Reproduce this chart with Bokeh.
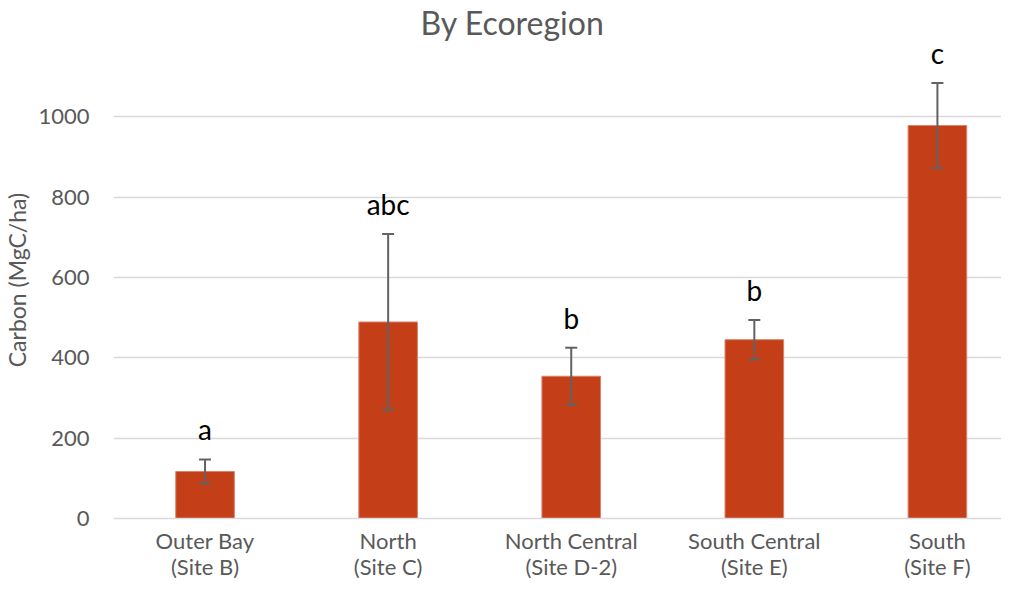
from bokeh.plotting import figure
from bokeh.models import ColumnDataSource, Whisker, TeeHead, Range1d, FixedTicker
from bokeh.core.properties import value
from bokeh.embed import file_html
from bokeh.resources import INLINE

regions = ["Outer Bay", "North", "North Central", "South Central", "South"]
sites = ["(Site B)", "(Site C)", "(Site D-2)", "(Site E)", "(Site F)"]
carbon = [117, 489, 354, 445, 978]
errors = [30, 219, 71, 49, 106]
letters = ["a", "abc", "b", "b", "c"]
y_ticks = [0, 200, 400, 600, 800, 1000]

FONT = "Lato"
GRAY = "#595959"

xs = [i + 0.5 for i in range(len(regions))]
upper = [c + e for c, e in zip(carbon, errors)]
lower = [c - e for c, e in zip(carbon, errors)]
src = ColumnDataSource(dict(x=xs, carbon=carbon, upper=upper, lower=lower, letters=letters))

p = figure(width=1001, height=582, output_backend="svg", toolbar_location=None,
           x_range=Range1d(0, 4.85), y_range=Range1d(0, 1187),
           min_border_left=107, min_border_right=0, min_border_top=34, min_border_bottom=40,
           title="By Ecoregion")
p.outline_line_color = None
p.background_fill_color = "white"
p.border_fill_color = "white"

p.title.align = "left"
p.title.offset = 307
p.title.text_font = FONT
p.title.text_font_size = "32px"
p.title.text_line_height = 0.9
p.title.text_font_style = "normal"
p.title.text_color = GRAY
p.title.standoff = 0

p.vbar(x="x", top="carbon", width=0.32, source=src, fill_color="#C43E17",
       line_color="#D9826A", line_width=1)

w = Whisker(base="x", upper="upper", lower="lower", source=src, line_color="#626262",
            line_width=2, level="overlay",
            upper_head=TeeHead(size=12, line_color="#626262", line_width=2),
            lower_head=TeeHead(size=12, line_color="#626262", line_width=2))
p.add_layout(w)

p.text(x="x", y="upper", text="letters", source=src, text_align="center",
       text_baseline="middle", y_offset=-30, text_font=value(FONT),
       text_font_size="28px", text_color="black")

ax = p.xaxis[0]
ax.ticker = FixedTicker(ticks=xs)
ax.major_label_overrides = {x: f"{r}\n{s}" for x, r, s in zip(xs, regions, sites)}
ax.major_tick_line_color = None
ax.minor_tick_line_color = None
ax.major_tick_out = 0
ax.major_tick_in = 0
ax.minor_tick_out = 0
ax.axis_label_standoff = 0
ax.axis_line_color = "#D9D9D9"
ax.axis_line_width = 1.5
ax.major_label_text_font = FONT
ax.major_label_text_font_size = "22px"
ax.major_label_text_line_height = 0.98
ax.major_label_text_color = GRAY
ax.major_label_standoff = 8

p.yaxis.ticker = FixedTicker(ticks=y_ticks)
p.yaxis.axis_line_color = None
p.yaxis.major_tick_line_color = None
p.yaxis.minor_tick_line_color = None
p.yaxis.major_label_text_font = FONT
p.yaxis.major_label_text_font_size = "22px"
p.yaxis.major_label_text_color = GRAY
p.yaxis.major_label_standoff = 18
p.yaxis.axis_label = "Carbon (MgC/ha)"
p.yaxis.axis_label_text_font = FONT
p.yaxis.axis_label_text_font_size = "23px"
p.yaxis.axis_label_text_font_style = "normal"
p.yaxis.axis_label_text_color = GRAY
p.yaxis.axis_label_standoff = 4

p.xgrid.grid_line_color = None
p.ygrid.ticker = FixedTicker(ticks=y_ticks[1:])
p.ygrid.grid_line_color = "#D9D9D9"
p.ygrid.grid_line_width = 1.5

open("out.html", "w").write(file_html(p, INLINE))
